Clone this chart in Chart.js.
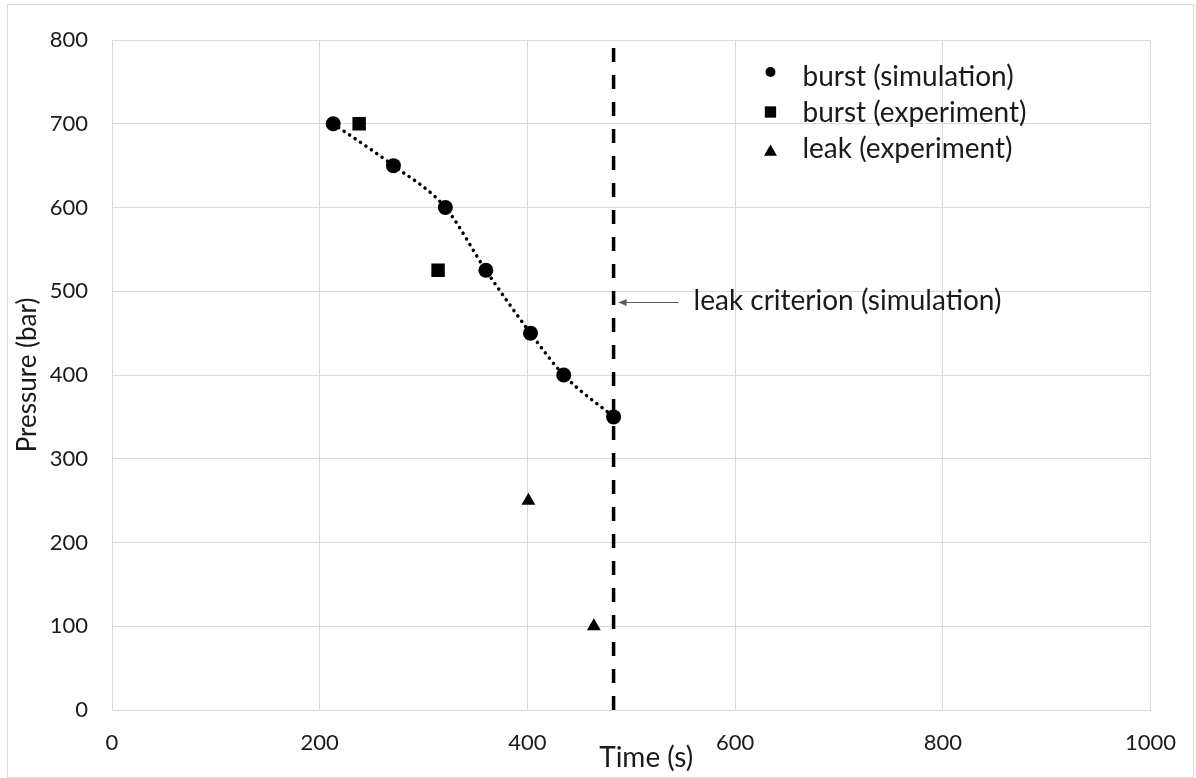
<!DOCTYPE html>
<html>
<head>
<meta charset="utf-8">
<script src="https://cdn.jsdelivr.net/npm/chart.js@4.4.0/dist/chart.umd.min.js"></script>
<style>
  html, body { margin: 0; padding: 0; background: #fff; }
  #wrap { position: relative; width: 1196px; height: 778px; }
</style>
</head>
<body>
<div id="wrap"><canvas id="c" width="1196" height="778"></canvas></div>
<script>
/* ── Data ── */
const simTime          = [213, 271, 321, 360, 403, 435, 483];
const simPressure      = [700, 650, 600, 525, 450, 400, 350];
const burstExpTime     = [238, 314];
const burstExpPressure = [700, 525];
const leakExpTime      = [401, 464];
const leakExpPressure  = [250, 100];
const criterionTime     = [483, 483];
const criterionPressure = [0, 800];
const criterionArrowAt  = 487;   // pressure where the arrow points
const criterionLabel    = 'leak criterion (simulation)';
const xTitle = 'Time (s)';
const yTitle = 'Pressure (bar)';

const xTickMin = 0, xTickMax = 1000, xTickStep = 200;
const yTickMin = 0, yTickMax = 800,  yTickStep = 100;

const FONT  = 'Lato, "Open Sans", sans-serif';
const INK   = '#1a1a1a';
const GRID  = '#d9d9d9';
const TEXT_SIZE = 28;   // legend, x title, annotation
const TICK_SIZE = 22;

function pts(xs, ys) { return xs.map((x, i) => ({ x, y: ys[i] })); }

/* ── Plugins ── */
const framePlugin = {
  id: 'frame',
  beforeDraw(chart) {
    const ctx = chart.ctx;
    ctx.save();
    ctx.strokeStyle = GRID;
    ctx.lineWidth = 1;
    ctx.strokeRect(7.5, 4.5, 1186, 773);
    ctx.restore();
  }
};

// x-axis title sits a little right of centre in the original
const xTitlePlugin = {
  id: 'xTitle',
  afterDraw(chart) {
    const ctx = chart.ctx;
    const area = chart.chartArea;
    ctx.save();
    ctx.font = TEXT_SIZE + 'px ' + FONT;
    ctx.textAlign = 'center';
    ctx.textBaseline = 'middle';
    ctx.fillStyle = INK;
    ctx.fillText(xTitle, (area.left + area.right) / 2 + 15, area.bottom + 48);
    ctx.restore();
  }
};

const legendPlugin = {
  id: 'innerLegend',
  afterDraw(chart) {
    const ctx = chart.ctx;
    const area = chart.chartArea;
    const items = chart.data.datasets.filter(d => d.inLegend);
    const mx = area.right - 380;
    let y = area.top + 36;
    ctx.save();
    ctx.font = TEXT_SIZE + 'px ' + FONT;
    ctx.textBaseline = 'middle';
    items.forEach(d => {
      ctx.fillStyle = '#000';
      ctx.strokeStyle = '#000';
      Chart.helpers.drawPoint(ctx, { pointStyle: d.pointStyle, radius: d.legendRadius, borderWidth: 0 }, mx, y + (d.legendShift || 0));
      ctx.fillStyle = INK;
      ctx.fillText(d.label, mx + 32, y + 1);
      y += 36;
    });
    ctx.restore();
  }
};

const arrowPlugin = {
  id: 'criterionArrow',
  afterDatasetsDraw(chart) {
    const ctx = chart.ctx;
    const xs = chart.scales.x, ys = chart.scales.y;
    const tipX = xs.getPixelForValue(criterionTime[0]) + 5;
    const tipY = Math.round(ys.getPixelForValue(criterionArrowAt)) + 0.5;
    ctx.save();
    ctx.strokeStyle = '#595959';
    ctx.fillStyle = '#595959';
    ctx.lineWidth = 1;
    ctx.beginPath();
    ctx.moveTo(tipX + 60, tipY);
    ctx.lineTo(tipX, tipY);
    ctx.stroke();
    ctx.beginPath();
    ctx.moveTo(tipX, tipY);
    ctx.lineTo(tipX + 8, tipY - 3.5);
    ctx.lineTo(tipX + 8, tipY + 3.5);
    ctx.closePath();
    ctx.fill();
    ctx.font = TEXT_SIZE + 'px ' + FONT;
    ctx.textBaseline = 'middle';
    ctx.fillStyle = INK;
    ctx.fillText(criterionLabel, tipX + 75, tipY - 2);
    ctx.restore();
  }
};

/* ── Chart ── */
new Chart(document.getElementById('c'), {
  type: 'scatter',
  data: {
    datasets: [
      {
        label: 'leak criterion (simulation)',
        data: pts(criterionTime, criterionPressure),
        showLine: true,
        borderColor: '#000',
        borderWidth: 3.5,
        borderDash: [14, 13],
        pointRadius: 0,
        inLegend: false
      },
      {
        label: 'burst (simulation)',
        data: pts(simTime, simPressure),
        showLine: true,
        cubicInterpolationMode: 'monotone',
        borderColor: '#000',
        borderWidth: 3.5,
        borderCapStyle: 'round',
        borderDash: [0.1, 6.5],
        backgroundColor: '#000',
        pointStyle: 'circle',
        pointRadius: 7.5,
        pointBorderWidth: 0,
        legendRadius: 5,
        legendShift: -4,
        inLegend: true
      },
      {
        label: 'burst (experiment)',
        data: pts(burstExpTime, burstExpPressure),
        backgroundColor: '#000',
        borderColor: '#000',
        pointStyle: 'rect',
        pointRadius: 9.5,
        pointBorderWidth: 0,
        legendRadius: 8,
        inLegend: true
      },
      {
        label: 'leak (experiment)',
        data: pts(leakExpTime, leakExpPressure),
        backgroundColor: '#000',
        borderColor: '#000',
        pointStyle: 'triangle',
        pointRadius: 8,
        pointBorderWidth: 0,
        legendRadius: 7.5,
        legendShift: 4,
        inLegend: true
      }
    ]
  },
  options: {
    responsive: false,
    animation: false,
    devicePixelRatio: 1,
    layout: { padding: { top: 40, right: 38, left: 0, bottom: 0 } },
    plugins: {
      legend: { display: false },
      tooltip: { enabled: false }
    },
    scales: {
      x: {
        type: 'linear',
        min: xTickMin, max: xTickMax,
        afterFit: s => { s.height = 68; },
        grid: { color: GRID, drawTicks: false },
        border: { color: GRID },
        ticks: { stepSize: xTickStep, padding: 20, color: INK, font: { family: FONT, size: TICK_SIZE }, callback: v => String(v) },
        title: { display: false }
      },
      y: {
        type: 'linear',
        min: yTickMin, max: yTickMax,
        afterFit: s => { s.width = 112; },
        grid: { color: GRID, drawTicks: false },
        border: { color: GRID },
        ticks: { stepSize: yTickStep, padding: 24, color: INK, font: { family: FONT, size: TICK_SIZE }, callback: v => String(v) },
        title: { display: true, text: yTitle, color: INK, font: { family: FONT, size: 26 }, padding: { top: 12, bottom: 0 } }
      }
    }
  },
  plugins: [framePlugin, xTitlePlugin, legendPlugin, arrowPlugin]
});
</script>
</body>
</html>
